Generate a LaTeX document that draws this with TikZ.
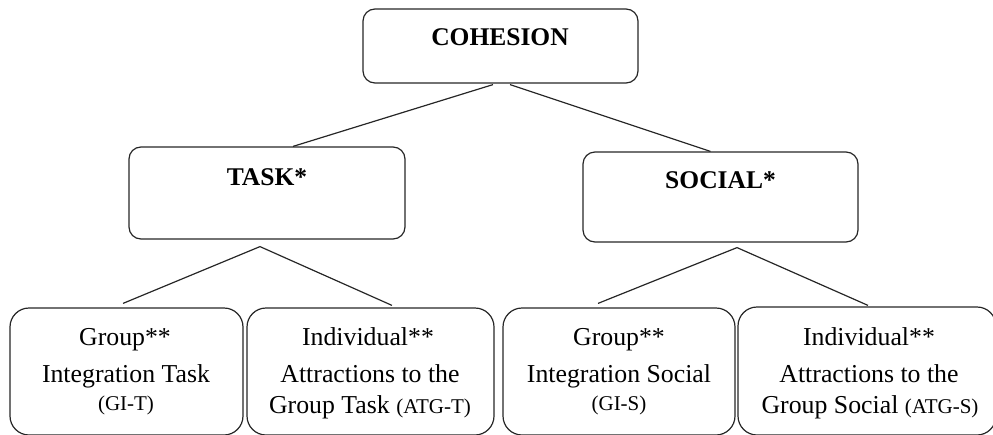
\documentclass[tikz,border=0pt]{standalone}
\usepackage{fontspec}
\setmainfont{Liberation Serif}
\usetikzlibrary{calc}
\begin{document}
\begin{tikzpicture}[x=1pt,y=-1pt,
  topbox/.style={draw=black!85, line width=1.2pt, rounded corners=12pt, inner sep=0pt},
  botbox/.style={draw=black!85, line width=1.2pt, rounded corners=19pt, inner sep=0pt},
  head/.style={font=\fontsize{25.5}{30}\selectfont\bfseries, anchor=base, inner sep=0pt},
  txt/.style={font=\fontsize{25.8}{30}\selectfont, anchor=base, inner sep=0pt},
  small/.style={font=\fontsize{21}{24}\selectfont},
  conn/.style={draw=black!85, line width=1.2pt}]
\useasboundingbox (0,0) rectangle (993,434);
% boxes
\node[topbox, minimum width=275pt, minimum height=74pt] (coh) at (500.5,46) {};
\node[topbox, minimum width=276pt, minimum height=92pt] (task) at (267,193) {};
\node[topbox, minimum width=275pt, minimum height=90pt] (social) at (720.5,197) {};
\node[botbox, minimum width=233pt, minimum height=127pt] (git) at (126.5,371.5) {};
\node[botbox, minimum width=247pt, minimum height=127pt] (atgt) at (370.5,371.5) {};
\node[botbox, minimum width=232pt, minimum height=127pt] (gis) at (619,371.5) {};
\node[botbox, minimum width=258pt, minimum height=128pt] (atgs) at (867,371) {};
% headings
\node[head] (cohT) at (500,45) {COHESION};
\node[head] (taskT) at (267,185) {TASK*};
\node[head] (socT) at (720.5,188) {SOCIAL*};
% bottom texts
\node[txt] (g1a) at (125,345) {Group**};
\node[txt] (g1b) at (126,382) {Integration Task};
\node[txt, small] (g1c) at (126,410) {(GI-T)};
\node[txt] (a1a) at (368,345) {Individual**};
\node[txt] (a1b) at (370,382) {Attractions to the};
\node[txt] (a1c) at (370,413) {Group Task {\fontsize{21}{24}\selectfont(ATG-T)}};
\node[txt] (g2a) at (619,345) {Group**};
\node[txt] (g2b) at (619,382) {Integration Social};
\node[txt, small] (g2c) at (619,410) {(GI-S)};
\node[txt] (a2a) at (869,345) {Individual**};
\node[txt] (a2b) at (869,382) {Attractions to the};
\node[txt] (a2c) at (870,413) {Group Social {\fontsize{21}{24}\selectfont(ATG-S)}};
% connector points
\coordinate (tapex) at ($(task.south)+(-7,7)$);
\coordinate (sapex) at ($(social.south)+(16.5,5)$);
% connectors
\draw[conn] ($(coh.south)+(-7.5,1)$) -- ($(task.north)+(26,0)$);
\draw[conn] ($(coh.south)+(9.5,1)$) -- ($(social.north)+(-10,0)$);
\draw[conn] ($(git.north)+(-3.5,-4)$) -- (tapex) -- ($(atgt.north)+(21.5,-2)$);
\draw[conn] ($(gis.north)+(-21,-4)$) -- (sapex) -- ($(atgs.north)+(1,-1)$);
\end{tikzpicture}
\end{document}
